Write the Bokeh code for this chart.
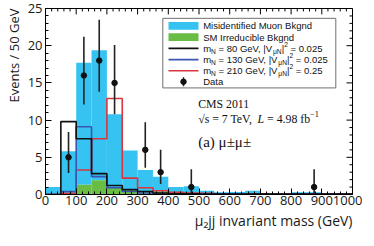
import numpy as np
from bokeh.plotting import figure
from bokeh.models import Range1d, SingleIntervalTicker, Label, Title
from bokeh.embed import file_html
from bokeh.resources import INLINE

# ---------------- data (events / 50 GeV) ----------------
bin_edges = list(range(0, 1001, 50))
sm_irreducible = [0.0, 0.1, 1.3, 1.9, 1.0, 0.7, 0.3, 0.4, 0.1, 0.1,
                  0.05, 0.05, 0.05, 0.05, 0.0, 0.0, 0.0, 0.0, 0.0, 0.0]
misid_muon = [1.0, 5.7, 16.4, 17.5, 9.8, 5.2, 3.0, 2.0, 0.9, 1.0,
              0.45, 0.25, 0.3, 0.45, 0.0, 0.0, 0.3, 0.3, 0.0, 0.0]
sig_mN80 = [0.0, 9.8, 7.5, 2.8, 1.2, 0.65, 0.4, 0.2, 0.1, 0.1,
            0.05, 0.05, 0.05, 0.05, 0.05, 0.05, 0.05, 0.05, 0.05, 0.05]
sig_mN130 = [0.0, 0.4, 9.1, 2.4, 0.9, 0.4, 0.2, 0.1, 0.1, 0.05,
             0.05, 0.05, 0.05, 0.05, 0.05, 0.05, 0.05, 0.05, 0.05, 0.05]
sig_mN210 = [0.0, 0.15, 3.3, 7.5, 12.9, 2.2, 0.9, 0.5, 0.3, 0.2,
             0.15, 0.1, 0.1, 0.1, 0.1, 0.1, 0.1, 0.1, 0.1, 0.1]
data_mass = [75, 125, 175, 225, 325, 375, 475, 875]
data_events = [5, 16, 18, 15, 6, 3, 1, 1]
data_err_lo = [2.9, 12.1, 13.8, 10.8, 3.6, 1.4, 0.17, 0.17]
data_err_hi = [8.4, 21.2, 23.5, 20.1, 9.7, 6.0, 3.4, 3.4]

legend_labels = ["Misidentified Muon Bkgnd", "SM Irreducible Bkgnd", "Data"]
sig_masses = ["80", "130", "210"]
sig_couplings = ["0.025", "0.025", "0.25"]
x_title = "μ₂jj invariant mass (GeV)"
y_title = "Events / 50 GeV"

BLUE_FILL = "#36c3f1"
GREEN_FILL = "#69bd45"
C80 = "#111111"
C130 = "#3b55b0"
C210 = "#d8363c"

# ---------------- figure ----------------
X0, X1, Y0, Y1 = 0, 1000, 0, 25
XMAJ, XMIN_N, YMAJ, YMIN_N = 100, 5, 5, 5
p = figure(width=362, height=230, x_range=Range1d(X0, X1), y_range=Range1d(Y0, Y1),
           output_backend="svg", toolbar_location=None,
           min_border_left=38, min_border_right=10, min_border_top=8, min_border_bottom=33)
p.background_fill_color = "white"
p.border_fill_color = "white"
p.outline_line_color = "black"
p.xgrid.visible = False
p.ygrid.visible = False

# page-pixel -> data helpers (frame: page x 46..353, y 16..205)
FL, FR, FT, FB = 46.0, 353.0, 16.0, 205.0
def dx(px):
    return X0 + (px - FL) / (FR - FL) * (X1 - X0)
def dy(py):
    return Y0 + (FB - py) / (FB - FT) * (Y1 - Y0)

def style_axis(ax):
    ax.major_tick_in = 6
    ax.major_tick_out = 0
    ax.minor_tick_in = 3
    ax.minor_tick_out = 0
    ax.axis_line_color = "black"
    ax.major_tick_line_color = "black"
    ax.minor_tick_line_color = "black"
    ax.major_label_text_font = "Open Sans"
    ax.major_label_text_font_size = "13px"
    ax.major_label_text_color = "#1a1a1a"

p.xaxis.ticker = SingleIntervalTicker(interval=XMAJ, num_minor_ticks=XMIN_N)
p.yaxis.ticker = SingleIntervalTicker(interval=YMAJ, num_minor_ticks=YMIN_N)
xa = p.xaxis[0]
ya = p.yaxis[0]
style_axis(xa)
style_axis(ya)
xa.major_label_standoff = 1
ya.major_label_standoff = 3

# mirrored ticks on the top and right frame edges
tx_len = dx(FL + 6) - dx(FL)
tx_len_m = dx(FL + 3) - dx(FL)
ty_len = dy(FB - 6) - dy(FB)
ty_len_m = dy(FB - 3) - dy(FB)
xstep = XMAJ / XMIN_N
xt = np.arange(X0, X1 + 0.5 * xstep, xstep)
xt_len = np.where(np.isclose(np.mod(xt, XMAJ), 0), ty_len, ty_len_m)
p.segment(x0=xt, y0=np.full(len(xt), Y1), x1=xt, y1=Y1 - xt_len,
          line_color="black", line_width=1)
ystep = YMAJ / YMIN_N
yt = np.arange(Y0, Y1 + 0.5 * ystep, ystep)
yt_len = np.where(np.isclose(np.mod(yt, YMAJ), 0), tx_len, tx_len_m)
p.segment(x0=np.full(len(yt), X1), y0=yt, x1=X1 - yt_len, y1=yt,
          line_color="black", line_width=1)

# axis titles as side-panel titles (right / top aligned like the reference)
p.add_layout(Title(text=x_title, align="right", text_font="Open Sans",
                   text_font_size="14px", text_font_style="normal",
                   text_color="#1a1a1a", standoff=2), "below")
p.add_layout(Title(text=y_title, align="right", text_font="Open Sans",
                   text_font_size="13px", text_font_style="normal",
                   text_color="#1a1a1a", standoff=4), "left")

# ---------------- histograms ----------------
lo = np.array(bin_edges[:-1], dtype=float)
hi = np.array(bin_edges[1:], dtype=float)
sm = np.array(sm_irreducible)
mis = np.array(misid_muon)
p.quad(left=lo, right=hi, bottom=sm, top=sm + mis, fill_color=BLUE_FILL, line_color=None)
p.quad(left=lo, right=hi, bottom=0, top=sm, fill_color=GREEN_FILL, line_color=None)

def step_xy(vals):
    xs = [bin_edges[0]]
    ys = [0.0]
    for i, v in enumerate(vals):
        xs += [bin_edges[i], bin_edges[i + 1]]
        ys += [v, v]
    xs.append(bin_edges[-1])
    ys.append(0.0)
    return xs, ys

for vals, col in [(sig_mN210, C210), (sig_mN130, C130), (sig_mN80, C80)]:
    xs, ys = step_xy(vals)
    p.line(xs, ys, line_color=col, line_width=1.6)

# data with errors
p.segment(x0=data_mass, y0=data_err_lo, x1=data_mass, y1=data_err_hi,
          line_color="#222222", line_width=1.6)
p.scatter(data_mass, data_events, size=5.5, color="#111111")

# ---------------- text helpers ----------------
SANS_W = {' ': 278, '=': 584, ',': 278, '.': 278, '|': 260, 'm': 833, 'N': 722,
          'G': 778, 'e': 556, 'V': 667, 'μ': 576}
SERIF_W = {' ': 250, '=': 564, ',': 250, '.': 250, '√': 549, 's': 389, 'T': 611,
           'e': 444, 'V': 722, 'L': 556, 'f': 333, 'b': 500, '−': 564}

def text_w(s, table, size, digit=556):
    return sum(table.get(c, digit if c.isdigit() else 556) for c in s) / 1000.0 * size

def add_label(px, py, text, font, size, style="normal", align="left", baseline="middle",
              angle=0.0, color="#111111"):
    p.add_layout(Label(x=dx(px), y=dy(py), text=text, text_font=font,
                       text_font_size=f"{size}px", text_font_style=style,
                       text_align=align, text_baseline=baseline, angle=angle,
                       text_color=color))

def rich(px, py, segments, font, table, size, digit):
    x = px
    for txt, kind in segments:
        s = size
        off = 0.0
        style = "normal"
        if kind == "sub":
            s = size * 0.7
            off = 0.32 * size
        elif kind == "sup":
            s = size * 0.7
            off = -0.42 * size
        elif kind == "it":
            style = "italic"
        stripped = txt.lstrip(" ")
        lead = len(txt) - len(stripped)
        xs = x + text_w(" " * lead, table, s, digit)
        core = stripped.rstrip(" ")
        add_label(xs, py + off, core, font, round(s, 2), style=style)
        x += text_w(txt, table, s, digit)

# ---------------- legend ----------------
LX0, LX1, LY0, LY1 = 163.3, 336.3, 26.0, 96.7
p.quad(left=dx(LX0), right=dx(LX1), bottom=dy(LY1), top=dy(LY0),
       fill_color="white", line_color="#707070", line_width=1)
rows = [33.6, 45.0, 56.5, 67.9, 79.3, 90.4]
SX0, SX1, TX = 169.0, 199.0, 203.7
half_h = 3.9
p.quad(left=dx(SX0), right=dx(SX1), bottom=dy(rows[0] + half_h), top=dy(rows[0] - half_h),
       fill_color=BLUE_FILL, line_color=None)
p.quad(left=dx(SX0), right=dx(SX1), bottom=dy(rows[1] + half_h), top=dy(rows[1] - half_h),
       fill_color=GREEN_FILL, line_color=None)
for r, col in zip(rows[2:5], [C80, C130, C210]):
    p.segment(x0=dx(SX0), y0=dy(r), x1=dx(SX1), y1=dy(r), line_color=col, line_width=1.6)
mx = (SX0 + SX1) / 2
p.segment(x0=dx(mx), y0=dy(rows[5] - 4.5), x1=dx(mx), y1=dy(rows[5] + 4.5),
          line_color="#222222", line_width=1.4)
p.scatter([dx(mx)], [dy(rows[5])], size=5.5, color="#111111")

LF = "Liberation Sans"
LS = 9.5
add_label(TX, rows[0], legend_labels[0], LF, LS)
add_label(TX, rows[1], legend_labels[1], LF, LS)
for r, m, c in zip(rows[2:5], sig_masses, sig_couplings):
    segs = [("m", "n"), ("N", "sub"), (f" = {m} GeV, |V", "n"), ("μN", "sub"),
            ("|", "n"), ("2", "sup"), (f" = {c}", "n")]
    rich(TX, r, segs, LF, SANS_W, LS, 556)
add_label(TX, rows[5], legend_labels[2], LF, LS)

# ---------------- CMS text ----------------
SF = "Liberation Serif"
add_label(198.7, 113.5, "CMS 2011", SF, 11.8)
rich(198.7, 128.5, [("√s = 7 TeV, ", "n"), ("L", "it"), (" = 4.98 fb", "n"), ("−1", "sup")],
     SF, SERIF_W, 11.8, 500)
add_label(198.7, 152.0, "(a) μ±μ±", SF, 15)

open("out.html", "w").write(file_html(p, INLINE))
